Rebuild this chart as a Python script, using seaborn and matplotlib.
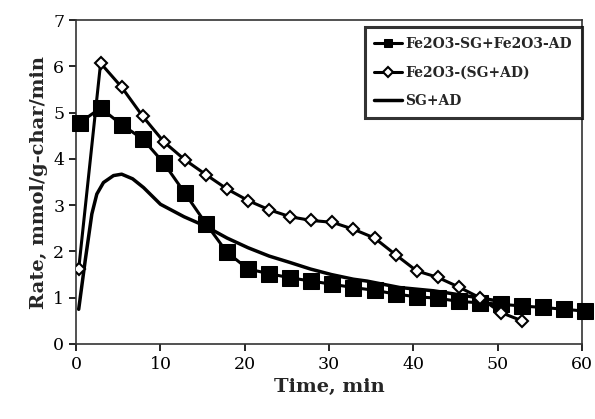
import matplotlib
matplotlib.use("Agg")
import matplotlib.pyplot as plt
import seaborn as sns
import numpy as np

# Fe2O3-SG+Fe2O3-AD (filled squares)
t_sq = [0.4, 2.9, 5.4, 7.9, 10.4, 12.9, 15.4, 17.9, 20.4, 22.9, 25.4, 27.9, 30.4,
        32.9, 35.4, 37.9, 40.4, 42.9, 45.4, 47.9, 50.4, 52.9, 55.4, 57.9, 60.4]
v_sq = [4.78, 5.10, 4.74, 4.43, 3.91, 3.26, 2.60, 1.98, 1.62, 1.52, 1.43, 1.36, 1.29,
        1.22, 1.16, 1.08, 1.02, 0.99, 0.92, 0.89, 0.86, 0.82, 0.79, 0.75, 0.71]

# Fe2O3-(SG+AD) (open diamonds)
t_di = [0.3, 2.9, 5.4, 7.9, 10.4, 12.9, 15.4, 17.9, 20.4, 22.9, 25.4, 27.9, 30.4,
        32.9, 35.4, 37.9, 40.4, 42.9, 45.4, 47.9, 50.4, 52.9]
v_di = [1.62, 6.07, 5.55, 4.92, 4.37, 3.98, 3.66, 3.35, 3.10, 2.90, 2.75, 2.67, 2.63,
        2.48, 2.29, 1.93, 1.58, 1.44, 1.23, 1.00, 0.68, 0.50]

# SG+AD (solid line)
t_ln = [0.3, 1.07, 1.86, 2.45, 3.24, 4.43, 5.4, 6.7, 8.0, 10.0, 12.8, 15.3, 17.9,
        20.4, 22.9, 25.4, 27.8, 30.3, 32.9, 34.5, 38.4, 42.4, 46.3, 50.4]
v_ln = [0.75, 1.80, 2.81, 3.24, 3.49, 3.64, 3.67, 3.57, 3.38, 3.02, 2.75, 2.55, 2.29,
        2.08, 1.90, 1.76, 1.62, 1.50, 1.40, 1.36, 1.22, 1.15, 1.04, 0.92]

labels = ["Fe2O3-SG+Fe2O3-AD", "Fe2O3-(SG+AD)", "SG+AD"]
xticks = [0, 10, 20, 30, 40, 50, 60]
yticks = [0, 1, 2, 3, 4, 5, 6, 7]

sns.set_style("ticks")
plt.rcParams['font.family'] = ['DejaVu Serif']

fig = plt.figure(figsize=(5.95, 4.19), dpi=100)
ax = fig.add_axes([0.128, 0.179, 0.85, 0.773])

sns.lineplot(x=t_sq, y=v_sq, ax=ax, sort=False, color="black", lw=2.2,
             marker="s", markersize=12, markeredgecolor="black",
             markerfacecolor="black", label=labels[0], clip_on=False, zorder=3)
sns.lineplot(x=t_di, y=v_di, ax=ax, sort=False, color="black", lw=2.2,
             marker="D", markersize=6.5, markeredgecolor="black", markeredgewidth=1.5,
             markerfacecolor="white", label=labels[1], zorder=4)
sns.lineplot(x=t_ln, y=v_ln, ax=ax, sort=False, color="black", lw=2.5,
             label=labels[2], zorder=2)

ax.set_xlim(0, 60)
ax.set_ylim(0, 7)
ax.set_xticks(xticks)
ax.set_yticks(yticks)
ax.tick_params(axis="both", direction="out", length=5, width=1.2, labelsize=12.5,
               colors="black")
for s in ax.spines.values():
    s.set_visible(True)
    s.set_linewidth(1.2)
    s.set_color("#333333")

ax.set_xlabel("Time, min", fontsize=14, fontweight="bold")
ax.set_ylabel("Rate, mmol/g-char/min", fontsize=14, fontweight="bold")

leg = ax.legend(loc="upper right", bbox_to_anchor=(1.0, 0.978), fontsize=10,
                frameon=True, fancybox=False, handlelength=2.0, handletextpad=0.25,
                borderpad=0.7, labelspacing=1.05, borderaxespad=0.0)
leg.get_frame().set_edgecolor("black")
leg.get_frame().set_linewidth(2.2)
for txt in leg.get_texts():
    txt.set_fontweight("bold")
for h in leg.legend_handles:
    h.set_markersize(5.5)

fig.savefig("out.png", dpi=100)
